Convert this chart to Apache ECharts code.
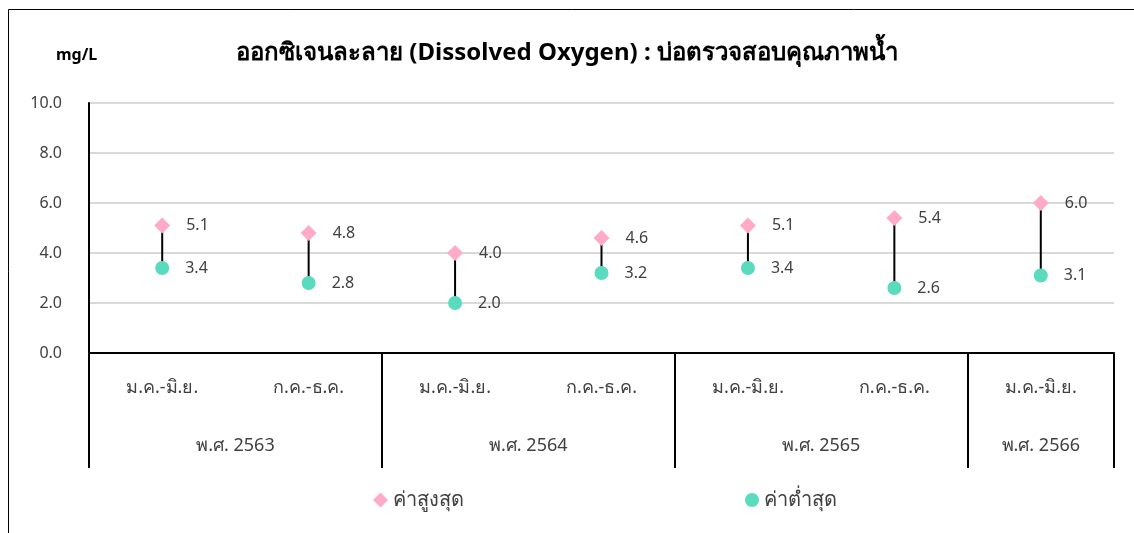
<!DOCTYPE html>
<html>
<head>
<meta charset="utf-8">
<script src="https://cdn.jsdelivr.net/npm/echarts@6/dist/echarts.min.js"></script>
<style>
    html, body {margin: 0; padding: 0; background: #fff;}
    #chart {width: 1134px; height: 533px;}
</style>
</head>
<body>
<div id="chart"></div>
<script>
const periods = ['ม.ค.-มิ.ย.', 'ก.ค.-ธ.ค.', 'ม.ค.-มิ.ย.', 'ก.ค.-ธ.ค.', 'ม.ค.-มิ.ย.', 'ก.ค.-ธ.ค.', 'ม.ค.-มิ.ย.'];
const years = ['พ.ศ. 2563', 'พ.ศ. 2564', 'พ.ศ. 2565', 'พ.ศ. 2566'];
const yearSpans = [2, 2, 2, 1];
const highValues = [5.1, 4.8, 4.0, 4.6, 5.1, 5.4, 6.0];
const lowValues = [3.4, 2.8, 2.0, 3.2, 3.4, 2.6, 3.1];
const yTicks = [0, 2, 4, 6, 8, 10];

const font = '"Noto Sans", Tahoma, sans-serif';
const textColor = '#404040';

// group edges and centres on a 0..n value axis laid over the category axis
let edges = [0], centres = [];
yearSpans.forEach((n) => {
    let last = edges[edges.length - 1];
    centres.push(last + n / 2);
    edges.push(last + n);
});

const chart = echarts.init(document.getElementById('chart'));

chart.setOption({
    animation: false,
    textStyle: {fontFamily: font},
    title: {
        text: 'ออกซิเจนละลาย (Dissolved Oxygen) : บ่อตรวจสอบคุณภาพน้ำ',
        left: 'center',
        top: 36,
        textStyle: {fontSize: 24, fontWeight: 'bold', color: '#000', fontFamily: font}
    },
    graphic: [
        {type: 'rect', shape: {x: 8.5, y: 9.5, width: 1300, height: 700},
            style: {fill: 'none', stroke: '#000', lineWidth: 1}, silent: true},
        {type: 'text', left: 56, top: 47,
            style: {text: 'mg/L', fontSize: 16, fontWeight: 'bold', fill: '#000', fontFamily: font}}
    ],
    legend: [
        {data: ['ค่าสูงสุด'], left: 368, top: 485, itemWidth: 15, itemHeight: 15, itemGap: 8,
            textStyle: {fontSize: 20, color: textColor}},
        {data: ['ค่าต่ำสุด'], left: 740, top: 485, itemWidth: 14, itemHeight: 14, itemGap: 8,
            textStyle: {fontSize: 20, color: textColor}}
    ],
    grid: {left: 89, right: 20, top: 103, bottom: 180, containLabel: false},
    xAxis: [
        {
            type: 'category',
            data: periods,
            axisLine: {show: true, lineStyle: {color: '#000', width: 2}},
            axisTick: {show: false},
            axisLabel: {margin: 26, fontSize: 18, color: textColor, interval: 0}
        },
        {
            type: 'value',
            min: 0,
            max: periods.length,
            position: 'bottom',
            axisLine: {show: false},
            splitLine: {show: false},
            axisTick: {show: true, customValues: edges, length: 115, lineStyle: {color: '#000', width: 2}},
            axisLabel: {
                customValues: centres,
                margin: 84,
                fontSize: 18,
                color: textColor,
                formatter: (v) => years[centres.indexOf(v)] || ''
            }
        }
    ],
    yAxis: {
        type: 'value',
        min: yTicks[0],
        max: yTicks[yTicks.length - 1],
        interval: 2,
        axisLine: {show: true, lineStyle: {color: '#000', width: 2}},
        axisTick: {show: false},
        axisLabel: {margin: 27, fontSize: 16, color: textColor, formatter: (v) => v.toFixed(1)},
        splitLine: {lineStyle: {color: '#d9d9d9', width: 2}}
    },
    series: [
        {
            type: 'custom',
            name: 'range',
            z: 1,
            data: highValues.map((h, i) => [i, lowValues[i], h]),
            renderItem: (params, api) => {
                let p1 = api.coord([api.value(0), api.value(1)]);
                let p2 = api.coord([api.value(0), api.value(2)]);
                return {
                    type: 'line',
                    shape: {x1: p1[0], y1: p1[1], x2: p2[0], y2: p2[1]},
                    style: {stroke: '#000', lineWidth: 2}
                };
            }
        },
        {
            type: 'scatter',
            name: 'ค่าสูงสุด',
            z: 3,
            symbol: 'diamond',
            symbolSize: 16,
            itemStyle: {color: '#ffabc6', opacity: 1},
            label: {show: true, position: 'right', distance: 16, fontSize: 16, color: textColor,
                formatter: (p) => p.value.toFixed(1)},
            data: highValues
        },
        {
            type: 'scatter',
            name: 'ค่าต่ำสุด',
            z: 3,
            symbol: 'circle',
            symbolSize: 14,
            itemStyle: {color: '#5adbbe', opacity: 1},
            label: {show: true, position: 'right', distance: 16, fontSize: 16, color: textColor,
                formatter: (p) => p.value.toFixed(1)},
            data: lowValues
        }
    ]
});
</script>
</body>
</html>
